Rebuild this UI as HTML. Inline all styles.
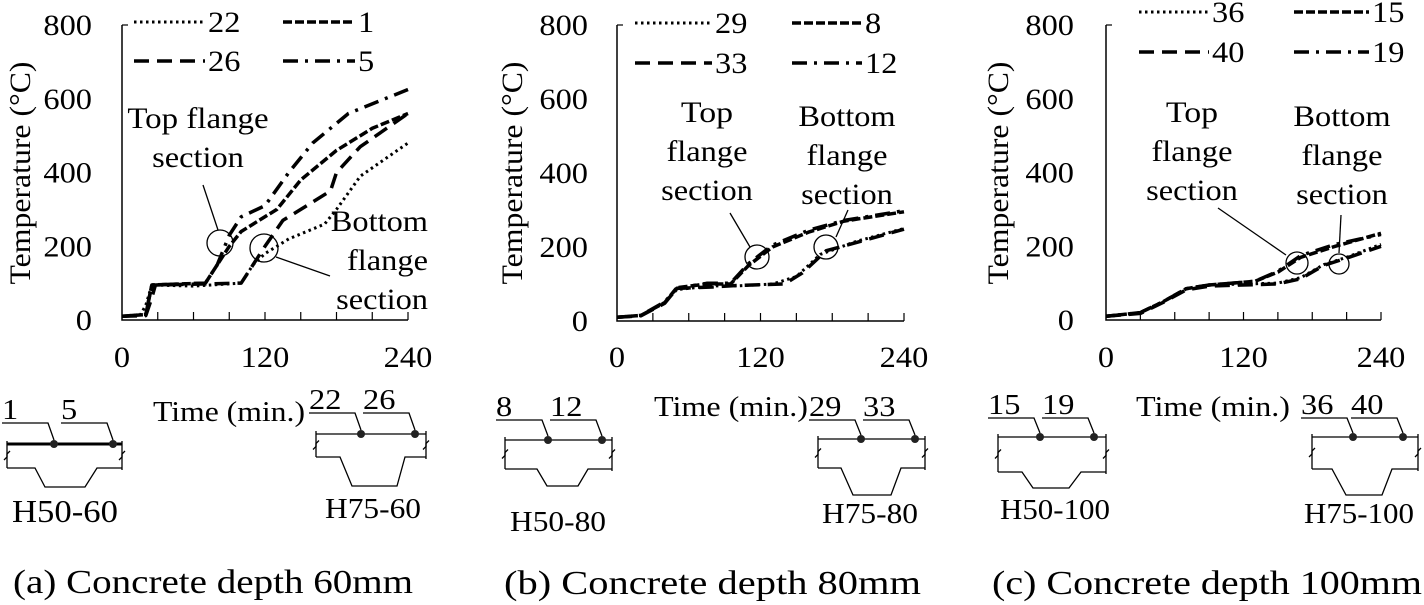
<!DOCTYPE html>
<html><head><meta charset="utf-8"><style>
html,body{margin:0;padding:0;background:#fff}
svg{display:block}
text{font-family:"Liberation Serif","Times New Roman",serif;fill:#000}
</style></head><body>
<svg id="fig" width="1424" height="605" viewBox="0 0 1424 605" xmlns="http://www.w3.org/2000/svg"></svg>
<script>
// ---- data ----
const xTicks=[0,120,240];
const yTicks=[0,200,400,600,800];
// panel a
const a_s22_t=[0,15,20,25,60,100,110,120,140,170,180,200,240];
const a_s22_v=[10,12,40,95,92,100,150,180,220,260,300,390,480];
const a_s26_t=[0,20,25,28,100,110,120,135,150,175,180,200,240];
const a_s26_v=[10,12,60,95,100,150,200,270,300,350,400,470,560];
const a_s1_t=[0,20,25,70,80,90,100,115,130,150,180,210,240];
const a_s1_v=[10,15,95,100,150,200,240,270,300,380,460,520,560];
const a_s5_t=[0,20,25,70,80,90,100,120,140,160,190,240];
const a_s5_v=[10,15,95,100,150,230,280,310,400,480,560,625];
// panel b
const b_s29_t=[0,20,40,50,80,100,130,150,170,200,240];
const b_s29_v=[10,15,50,85,95,95,100,120,180,215,250];
const b_s33_t=[0,20,40,50,80,100,140,155,175,200,240];
const b_s33_v=[10,14,48,88,92,96,100,130,190,212,248];
const b_s8_t=[0,20,40,50,75,95,110,130,160,190,240];
const b_s8_v=[10,15,50,90,100,100,150,200,240,270,295];
const b_s12_t=[0,20,40,50,75,95,110,130,160,190,240];
const b_s12_v=[10,15,52,88,102,102,155,205,245,272,298];
// panel c
const c_s36_t=[0,30,50,70,90,150,170,190,210,240];
const c_s36_v=[10,20,50,85,95,100,115,150,170,205];
const c_s40_t=[0,30,50,70,90,150,170,190,210,240];
const c_s40_v=[10,18,48,82,92,98,112,148,168,200];
const c_s15_t=[0,30,50,70,90,130,150,170,200,240];
const c_s15_v=[10,20,50,85,95,105,130,170,200,235];
const c_s19_t=[0,30,50,70,90,130,150,170,200,240];
const c_s19_v=[10,20,50,85,95,105,132,175,205,232];

const NS="http://www.w3.org/2000/svg";
const svg=document.getElementById('fig');
const TW={' ':.25,'(':.333,')':.333,'.':.25,'-':.333,'°':.4,'T':.611,'B':.667,'C':.667,'H':.722,
 'a':.444,'c':.444,'d':.5,'e':.444,'f':.333,'g':.5,'h':.5,'i':.278,'l':.278,'m':.778,'n':.5,'o':.5,'p':.5,'r':.333,'s':.389,'t':.278,'u':.5};
function tw(s){let w=0;for(const ch of s)w+=(TW[ch]!==undefined?TW[ch]:.5);return w;}
function el(tag,attrs,parent){const e=document.createElementNS(NS,tag);for(const k in attrs)e.setAttribute(k,attrs[k]);(parent||svg).appendChild(e);return e;}
function txt(x,y,s,size,anchor,tl,parent,sx){
  const t=el('text',{x:x,y:y,'font-size':size,'text-anchor':anchor||'start'},parent);
  const L=tl||tw(s)*27*(sx||1.2);
  t.setAttribute('textLength',L.toFixed(1));t.setAttribute('lengthAdjust','spacingAndGlyphs');
  t.textContent=s;return t;}

const styles={dot:{dash:'2.5,3.5',w:3},short:{dash:'9,3',w:3.5},long:{dash:'15,8',w:3.5},dashdot:{dash:'15,7,3,7',w:3.5}};

function panel(cfg){
  const g=el('g',{});
  
  
  const X=v=>cfg.x0+(cfg.x1-cfg.x0)*v/240;
  const Y=v=>cfg.y0+(cfg.y1-cfg.y0)*v/800;
  const ax=el('path',{d:`M${X(0)},${Y(800)}V${Y(0)}H${X(240)}`,stroke:'#000','stroke-width':1.5,fill:'none'},g);
  
  
  for(let m=30;m<=240;m+=30){el('line',{x1:X(m),x2:X(m),y1:Y(0),y2:Y(0)-8,stroke:'#000','stroke-width':1.2},g);}
  el('line',{x1:X(0),x2:X(0)+6,y1:Y(800),y2:Y(800),stroke:'#000','stroke-width':1.2},g);
  yTicks.forEach(v=>{const t=txt(cfg.ylx,Y(v)+10,String(v),30,'end',null,g);
    
    });
  xTicks.forEach(v=>{const t=txt(X(v),367,String(v),30,'middle',null,g);
    
    });
  const yt=txt(0,0,'Temperature (°C)',30,'middle',223,g);
  yt.setAttribute('transform',`translate(${cfg.ytx},173) rotate(-90)`);
  
  
  cfg.series.forEach(s=>{
    const st=styles[s.style];
    const d=s.t.map((t,i)=>(i?'L':'M')+X(t).toFixed(1)+','+Y(s.v[i]).toFixed(1)).join('');
    const p=el('path',{d:d,fill:'none',stroke:'#000','stroke-width':st.w,'stroke-dasharray':st.dash,'stroke-linejoin':'round'},g);
    
    
    const lg=el('g',{},g);
    
    
    el('line',{x1:s.lx1,x2:s.lx2,y1:s.ly,y2:s.ly,stroke:'#000','stroke-width':st.w,'stroke-dasharray':st.dash},lg);
    txt(s.lx2+3,s.ly+10,s.label,30,'start',null,lg);
  });
  cfg.ann.forEach(a=>{
    const ag=el('g',{},g);
    
    
    a.lines.forEach((l,i)=>txt(a.tx,a.ty+i*39,l,30,a.anchor,null,ag,1.2));
    el('circle',{cx:a.cx,cy:a.cy,r:a.r,fill:'none',stroke:'#000','stroke-width':1.3},ag);
    el('line',{x1:a.l[0],y1:a.l[1],x2:a.l[2],y2:a.l[3],stroke:'#000','stroke-width':1.3},ag);
  });
  const tm=txt(cfg.timeX,cfg.timeY,'Time (min.)',29,'start',cfg.timeW,g);
  
  
  const cap=txt(cfg.capX,cfg.capY,cfg.cap,34,'start',cfg.capW,g);
  
  
}

function diagram(d){
  const g=el('g',{});
  
  
  const s={stroke:'#000',fill:'none','stroke-width':1.3};
  el('line',Object.assign({x1:d.x0,x2:d.x1,y1:d.yt,y2:d.yt},s,{'stroke-width':d.thick?3:1.3}),g);
  el('path',Object.assign({d:`M${d.x0},${d.yt-3}V${d.yb} M${d.x1},${d.yt-3}V${d.yb+2}`},s),g);
  el('path',Object.assign({d:`M${d.x0},${d.yb}H${d.tr[0]}L${d.tr[1]},${d.yd}H${d.tr[2]}L${d.tr[3]},${d.yb}H${d.x1}`},s),g);
  const ym=(d.yt+d.yb)/2;
  el('path',Object.assign({d:`M${d.x0-3},${ym+4}l3,-3l0,-3l3,-3 M${d.x1-3},${ym+4}l3,-3l0,-3l3,-3`},s),g);
  d.dots.forEach((x,i)=>{
    el('circle',{cx:x,cy:d.yt,r:4,fill:'#222'},g);
    el('path',Object.assign({d:`M${x-52},${d.yl}H${x-6}L${x},${d.yt-4}`},s),g);
    txt(x-52,d.yl-4,d.labels[i],29,'start',null,g);
  });
  txt(d.nx,d.ny,d.name,d.ns||29,'middle',d.nw,g);
}

panel({name:'panel-a',x0:122,x1:408,y0:320,y1:25,ylx:92,ytx:30,
 timeX:153,timeY:421,timeW:152,cap:'(a) Concrete depth 60mm',capX:13,capY:593,capW:400,
 series:[
  {label:'22',style:'dot',t:a_s22_t,v:a_s22_v,lx1:134,lx2:205,ly:22},
  {label:'1',style:'short',t:a_s1_t,v:a_s1_v,lx1:283,lx2:355,ly:22},
  {label:'26',style:'long',t:a_s26_t,v:a_s26_v,lx1:134,lx2:205,ly:61},
  {label:'5',style:'dashdot',t:a_s5_t,v:a_s5_v,lx1:283,lx2:355,ly:61}],
 ann:[
  {name:'top-flange-annotation',lines:['Top flange','section'],tx:198,ty:128,anchor:'middle',cx:220,cy:243,r:13,l:[203,185,218,230]},
  {name:'bottom-flange-annotation',lines:['Bottom','flange','section'],tx:428,ty:231,anchor:'end',cx:264,cy:248,r:14,l:[276,257,330,276]}]
});
panel({name:'panel-b',x0:617,x1:904,y0:321,y1:25,ylx:588,ytx:522,
 timeX:654,timeY:416,timeW:154,cap:'(b) Concrete depth 80mm',capX:504,capY:594,capW:417,
 series:[
  {label:'29',style:'dot',t:b_s29_t,v:b_s29_v,lx1:635,lx2:712,ly:23},
  {label:'8',style:'short',t:b_s8_t,v:b_s8_v,lx1:792,lx2:862,ly:23},
  {label:'33',style:'long',t:b_s33_t,v:b_s33_v,lx1:635,lx2:712,ly:63},
  {label:'12',style:'dashdot',t:b_s12_t,v:b_s12_v,lx1:792,lx2:862,ly:63}],
 ann:[
  {name:'top-flange-annotation',lines:['Top','flange','section'],tx:707,ty:122,anchor:'middle',cx:757,cy:257,r:12,l:[730,213,750,247]},
  {name:'bottom-flange-annotation',lines:['Bottom','flange','section'],tx:847,ty:126,anchor:'middle',cx:826,cy:247,r:12,l:[848,210,836,237]}]
});
panel({name:'panel-c',x0:1106,x1:1381,y0:320,y1:25,ylx:1074,ytx:1008,
 timeX:1136,timeY:416,timeW:154,cap:'(c) Concrete depth 100mm',capX:992,capY:594,capW:430,
 series:[
  {label:'36',style:'dot',t:c_s36_t,v:c_s36_v,lx1:1139,lx2:1209,ly:12},
  {label:'15',style:'short',t:c_s15_t,v:c_s15_v,lx1:1294,lx2:1369,ly:12},
  {label:'40',style:'long',t:c_s40_t,v:c_s40_v,lx1:1139,lx2:1209,ly:52},
  {label:'19',style:'dashdot',t:c_s19_t,v:c_s19_v,lx1:1294,lx2:1369,ly:52}],
 ann:[
  {name:'top-flange-annotation',lines:['Top','flange','section'],tx:1192,ty:122,anchor:'middle',cx:1297,cy:263,r:11,l:[1218,208,1286,255]},
  {name:'bottom-flange-annotation',lines:['Bottom','flange','section'],tx:1342,ty:126,anchor:'middle',cx:1339,cy:264,r:10,l:[1341,215,1339,253]}]
});

diagram({name:'H50-60',x0:7,x1:122,yt:444,yb:468,yd:487,tr:[35,45,85,97],dots:[54,113],labels:['1','5'],yl:423,nx:65,ny:522,ns:32,nw:106,thick:true});
diagram({name:'H75-60',x0:316,x1:426,yt:434,yb:457,yd:486,tr:[340,352,397,405],dots:[361,415],labels:['22','26'],yl:413,nx:373,ny:518,nw:96});
diagram({name:'H50-80',x0:505,x1:612,yt:440,yb:469,yd:486,tr:[537,547,578,588],dots:[548,602],labels:['8','12'],yl:420,nx:558,ny:531,nw:96});
diagram({name:'H75-80',x0:818,x1:925,yt:439,yb:468,yd:495,tr:[841,853,891,901],dots:[861,915],labels:['29','33'],yl:420,nx:870,ny:523,nw:96});
diagram({name:'H50-100',x0:998,x1:1106,yt:437,yb:472,yd:488,tr:[1022,1033,1069,1081],dots:[1040,1094],labels:['15','19'],yl:418,nx:1055,ny:519,nw:110});
diagram({name:'H75-100',x0:1312,x1:1418,yt:437,yb:469,yd:495,tr:[1332,1346,1382,1392],dots:[1353,1403],labels:['36','40'],yl:418,nx:1359,ny:523,nw:110});
</script>
</body></html>
